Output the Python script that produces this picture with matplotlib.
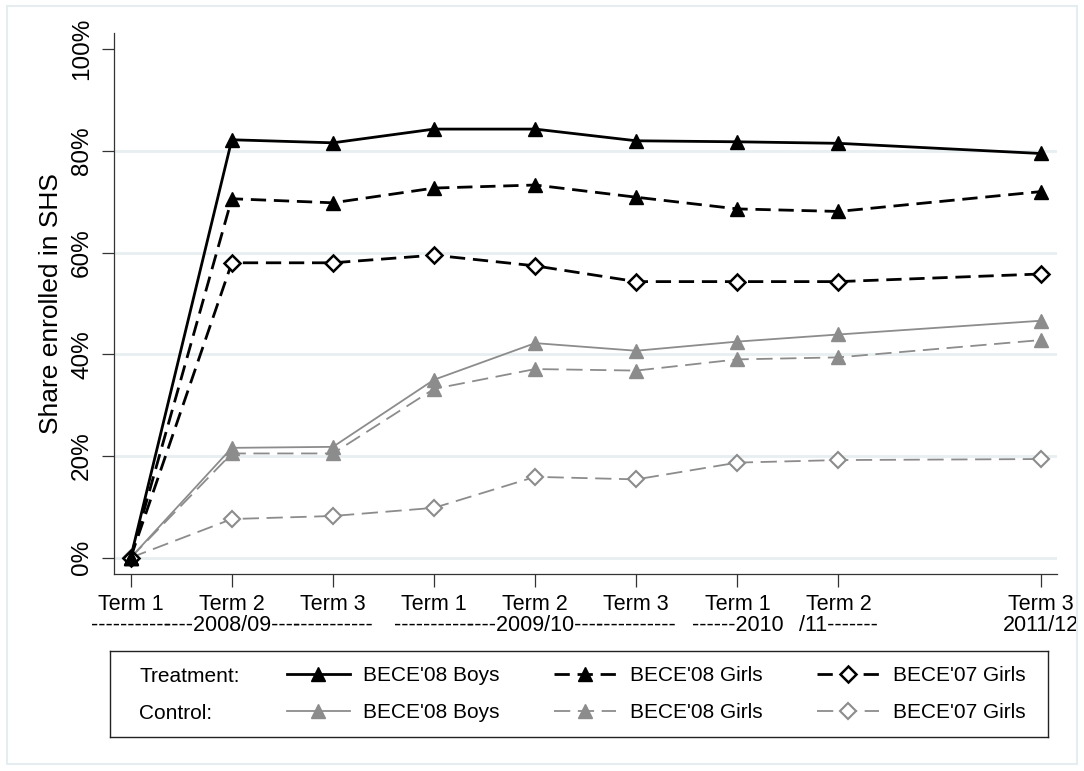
import numpy as np
import matplotlib.pyplot as plt
from matplotlib.lines import Line2D
from matplotlib.patches import Rectangle

plt.rcParams['font.family'] = ['Liberation Sans', 'DejaVu Sans']

# term positions (gap before the last survey round)
terms = [0, 1, 2, 3, 4, 5, 6, 7, 9]
term_labels = ["Term 1\n-----------", "Term 2\n----2008/09----", "Term 3\n-----------",
               "Term 1\n-----------", "Term 2\n----2009/10----", "Term 3\n-----------",
               "Term 1\n------2010", "Term 2\n/11-------", "Term 3\n2011/12"]

# share enrolled in SHS, percent
treat_boys08 = [0, 82.2, 81.6, 84.3, 84.3, 82.0, 81.8, 81.5, 79.5]
treat_girls08 = [0, 70.6, 69.8, 72.7, 73.3, 70.9, 68.6, 68.1, 72.0]
treat_girls07 = [0, 58.0, 58.0, 59.5, 57.4, 54.3, 54.3, 54.3, 55.8]
ctrl_boys08 = [0, 21.6, 21.8, 35.0, 42.2, 40.7, 42.5, 43.9, 46.6]
ctrl_girls08 = [0, 20.5, 20.5, 33.2, 37.1, 36.8, 39.0, 39.4, 42.8]
ctrl_girls07 = [0, 7.6, 8.2, 9.8, 15.9, 15.4, 18.7, 19.2, 19.4]

series_names = ["BECE'08 Boys", "BECE'08 Girls", "BECE'07 Girls"]

black = 'black'
gray = '#8c8c8c'
grid_col = '#e8eff1'

fig = plt.figure(figsize=(10.84, 7.71), dpi=100)
fig.patches.append(Rectangle((7 / 1084, 7 / 771), 1070 / 1084, 758 / 771,
                             transform=fig.transFigure, fill=False,
                             edgecolor='#e6edf0', lw=1.5))

ax = fig.add_axes([114 / 1084, (771 - 574.3) / 771, 943 / 1084, 541.3 / 771])

blk_dash = (5.5, 2.8)
gry_dash = (9, 4.2)

style = [
    (ctrl_girls07, dict(color=gray, lw=1.3, dashes=gry_dash, marker='D', ms=8.5,
                        mfc='white', mec=gray, mew=1.5)),
    (ctrl_girls08, dict(color=gray, lw=1.3, dashes=gry_dash, marker='^', ms=10,
                        mfc=gray, mec=gray)),
    (ctrl_boys08, dict(color=gray, lw=1.3, marker='^', ms=10, mfc=gray, mec=gray)),
    (treat_girls07, dict(color=black, lw=2.0, dashes=blk_dash, marker='D', ms=8.5,
                         mfc='white', mec=black, mew=1.8)),
    (treat_girls08, dict(color=black, lw=2.0, dashes=blk_dash, marker='^', ms=10,
                         mfc=black, mec=black)),
    (treat_boys08, dict(color=black, lw=2.0, marker='^', ms=10, mfc=black, mec=black)),
]
for vals, kw in style:
    ax.plot(terms, vals, **kw)

ax.set_xlim(-0.165, 9.161)
ax.set_ylim(-3.27, 103.2)

ax.set_yticks([0, 20, 40, 60, 80, 100])
ax.set_yticklabels(['0%', '20%', '40%', '60%', '80%', '100%'],
                   rotation=90, va='center', fontsize=17.5)
ax.set_xticks(terms)
ax.set_xticklabels(term_labels, fontsize=15.5, linespacing=1.0)
ax.set_ylabel('Share enrolled in SHS', fontsize=19, labelpad=6)

ax.tick_params(axis='both', direction='out', length=9, width=0.9, color='#333333')
ax.tick_params(axis='y', pad=6)
ax.tick_params(axis='x', pad=5)
for s in ['top', 'right']:
    ax.spines[s].set_visible(False)
for s in ['left', 'bottom']:
    ax.spines[s].set_linewidth(0.9)
    ax.spines[s].set_color('#333333')

ax.set_axisbelow(True)
ax.grid(axis='y', color=grid_col, lw=2)
ax.yaxis.get_gridlines()[-1].set_visible(False)

# legend panel
lax = fig.add_axes([110 / 1084, (771 - 737) / 771, 938 / 1084, 86 / 771])
lax.set_xticks([])
lax.set_yticks([])
for s in lax.spines.values():
    s.set_linewidth(1.0)
    s.set_color('#222222')

handles = [
    Line2D([], [], color=black, lw=2.0, marker='^', ms=10, mfc=black, mec=black),
    Line2D([], [], color=gray, lw=1.3, marker='^', ms=10, mfc=gray, mec=gray),
    Line2D([], [], color=black, lw=2.0, dashes=blk_dash, marker='^', ms=10,
           mfc=black, mec=black),
    Line2D([], [], color=gray, lw=1.3, dashes=gry_dash, marker='^', ms=10,
           mfc=gray, mec=gray),
    Line2D([], [], color=black, lw=2.0, dashes=blk_dash, marker='D', ms=8.5,
           mfc='white', mec=black, mew=1.8),
    Line2D([], [], color=gray, lw=1.3, dashes=gry_dash, marker='D', ms=8.5,
           mfc='white', mec=gray, mew=1.5),
]
labels = [series_names[0], series_names[0], series_names[1], series_names[1],
          series_names[2], series_names[2]]
lax.legend(handles, labels, ncol=3, loc='center left',
           bbox_to_anchor=((287 - 110) / 938, 0.5), frameon=False, fontsize=15,
           borderpad=0, borderaxespad=0, handlelength=3.0, handletextpad=0.65,
           columnspacing=2.6, labelspacing=0.85)
lax.text((139 - 110) / 938, 0.70, 'Treatment:', fontsize=15, va='center',
         transform=lax.transAxes)
lax.text((139 - 110) / 938, 0.27, 'Control:', fontsize=15, va='center',
         transform=lax.transAxes)

fig.savefig('out.png', dpi=100)
